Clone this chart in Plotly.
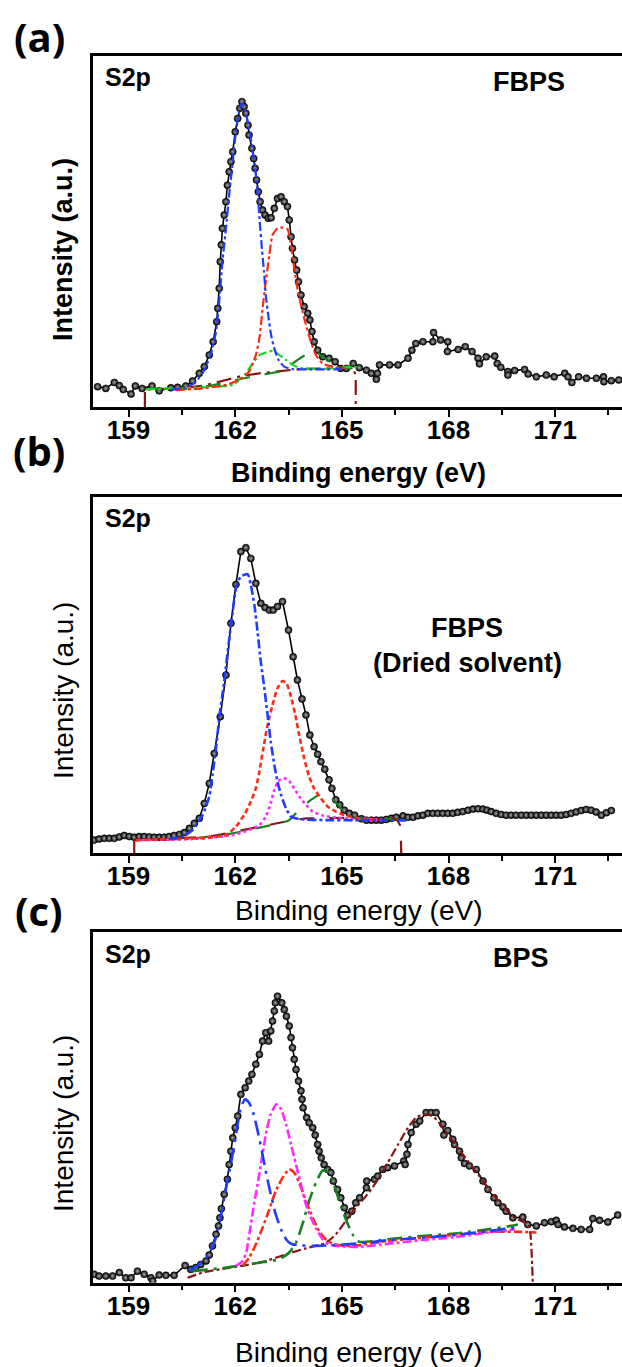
import plotly.graph_objects as go

W, H = 622, 1367
FONT = "Liberation Sans, Arial, sans-serif"
LABEL_FONT = "Open Sans, sans-serif"

# ---------------- (a) FBPS ----------------
a_be = [158.13, 158.36, 158.60, 158.74, 158.85, 159.07, 159.19, 159.38, 159.66, 159.86,
        160.19, 160.38, 160.61, 160.80, 160.99, 161.13, 161.27, 161.38, 161.48, 161.51,
        161.55, 161.58, 161.61, 161.64, 161.69, 161.74, 161.78, 161.83, 161.88, 161.93,
        162.00, 162.07, 162.13, 162.19, 162.25, 162.30, 162.36, 162.39, 162.47, 162.52,
        162.56, 162.60, 162.65, 162.70, 162.77, 162.84, 162.93, 163.01, 163.10, 163.19,
        163.29, 163.38, 163.47, 163.52, 163.57, 163.61, 163.67, 163.73, 163.78, 163.85,
        163.94, 164.04, 164.10, 164.16, 164.22, 164.32, 164.46, 164.64, 164.81, 164.97,
        165.13, 165.32, 165.49,
        165.69, 165.83, 165.97, 166.00, 166.06, 166.34, 166.58, 166.86, 166.97, 167.08,
        167.28, 167.56, 167.58, 167.78, 167.98, 167.97, 168.27, 168.47, 168.66, 168.83,
        168.87, 169.06, 169.30, 169.37, 169.47, 169.67, 169.67, 169.86, 170.14, 170.24,
        170.47, 170.75, 170.97, 171.27, 171.36, 171.47, 171.66, 171.88, 172.16, 172.36,
        172.37, 172.58, 172.79]
a_int = [5.8, 5.3, 7.0, 6.1, 5.0, 3.7, 6.0, 5.3, 6.0, 4.6,
         5.5, 5.6, 6.0, 7.4, 9.6, 11.5, 14.8, 18.6, 24.3, 28.1,
         33.8, 41.4, 46.2, 50.9, 54.7, 58.5, 63.2, 67.0, 69.9, 72.7,
         78.4, 82.2, 85.1, 87.0, 85.6, 83.7, 80.3, 77.5, 73.7, 70.8,
         68.0, 64.7, 61.3, 58.5, 56.1, 54.7, 53.8, 53.9, 56.6, 59.4,
         59.9, 58.5, 57.1, 53.3, 48.5, 45.2, 41.9, 39.0, 35.7, 31.9,
         28.6, 26.7, 24.8, 21.5, 18.6, 16.2, 14.3, 13.9, 12.9, 11.0,
         11.0, 12.4, 11.2,
         10.5, 9.6, 7.9, 9.6, 12.0, 12.0, 12.0, 13.9, 16.2, 18.1,
         18.6, 18.6, 21.2, 19.1, 18.6, 15.8, 16.4, 17.2, 15.8, 13.9,
         12.3, 14.3, 14.5, 12.4, 11.3, 10.1, 9.1, 10.4, 10.7, 9.4,
         8.6, 9.1, 8.6, 9.6, 8.6, 7.0, 8.6, 8.2, 8.2, 8.6,
         7.2, 7.5, 7.7]

a_bg_be = [159.46, 159.46, 160.33, 161.08, 161.74, 162.21, 162.68, 163.24, 163.80, 164.55, 165.30, 165.39, 165.39]
a_bg = [0.0, 5.0, 5.3, 6.0, 7.7, 8.9, 9.6, 10.3, 10.8, 11.0, 11.2, 9.1, 0.0]

a_blue_be = [160.19, 160.61, 160.89, 161.13, 161.32, 161.46, 161.55, 161.64, 161.74, 161.83,
             161.93, 162.02, 162.11, 162.19, 162.28, 162.38, 162.47, 162.56, 162.63, 162.69,
             162.75, 162.81, 162.86, 162.94, 163.01, 163.10, 163.22, 163.38, 163.61, 164.08,
             164.55, 165.11]
a_blue = [5.0, 5.5, 7.2, 10.5, 15.3, 21.5, 30.0, 41.4, 50.9, 60.4,
          69.9, 78.4, 84.1, 86.5, 84.6, 79.9, 74.6, 68.0, 61.3, 52.8,
          45.2, 38.6, 31.9, 25.3, 20.5, 16.7, 13.4, 11.5, 10.8, 10.7,
          10.7, 10.8]

a_red_be = [160.33, 161.08, 161.74, 162.11, 162.39, 162.58, 162.68, 162.77, 162.86, 162.96,
            163.05, 163.19, 163.33, 163.47, 163.57, 163.66, 163.75, 163.85, 163.99, 164.13,
            164.27, 164.46, 164.74, 165.11]
a_red = [4.8, 5.3, 6.3, 7.7, 10.1, 14.8, 19.6, 28.1, 35.7, 43.3,
         49.0, 50.9, 51.1, 50.7, 46.2, 39.5, 33.8, 29.1, 23.4, 18.6,
         14.8, 12.4, 11.5, 11.0]

a_lgreen_be = [159.49, 160.80, 161.93, 162.11, 162.30, 162.49, 162.68, 162.86, 163.05, 163.24,
               163.43, 163.61, 163.89, 164.55, 165.30, 165.49]
a_lgreen = [5.1, 5.5, 6.3, 7.7, 9.6, 12.4, 14.8, 15.5, 16.0, 14.8,
            13.4, 12.0, 11.0, 10.9, 11.5, 11.0]

a_dgreen_be = [159.49, 160.33, 161.27, 162.02, 162.68, 163.24, 163.61, 163.89, 164.22, 164.46,
               164.74, 165.02, 165.30]
a_dgreen = [5.1, 5.3, 6.0, 7.7, 9.1, 10.1, 12.4, 14.3, 16.0, 14.3,
            12.4, 11.2, 11.0]

# ---------------- (b) FBPS, dried solvent ----------------
b_be = [158.03, 158.17, 158.32, 158.46, 158.60, 158.74, 158.88, 159.02, 159.16, 159.30,
        159.44, 159.58, 159.72, 159.86, 160.00, 160.14, 160.28, 160.43, 160.57, 160.71,
        160.85, 160.99, 161.13, 161.27, 161.41, 161.58, 161.74, 161.88, 162.02, 162.16,
        162.30, 162.44, 162.58, 162.72, 162.84, 162.96, 163.07, 163.19, 163.33, 163.50,
        163.63, 163.75, 163.88, 163.99, 164.10, 164.22, 164.32, 164.41, 164.52, 164.64,
        164.72, 164.83, 164.94, 165.07, 165.21, 165.36,
        165.55, 165.69, 165.83, 165.97, 166.11, 166.25, 166.39, 166.53, 166.72, 166.86,
        167.00, 167.14, 167.28, 167.42, 167.56, 167.70, 167.84, 167.98, 168.12, 168.26,
        168.40, 168.55, 168.69, 168.83, 168.97, 169.08, 169.20, 169.34, 169.48, 169.62,
        169.76, 169.90, 170.05, 170.19, 170.33, 170.47, 170.61, 170.75, 170.89, 171.03,
        171.17, 171.31, 171.45, 171.59, 171.73, 171.87, 172.01, 172.15, 172.30, 172.44,
        172.58]
b_int = [3.7, 4.0, 4.2, 4.2, 4.2, 4.6, 5.0, 4.7, 4.5, 4.7,
         4.7, 4.6, 4.5, 4.5, 4.5, 4.7, 5.0, 5.3, 5.8, 7.0,
         8.4, 9.8, 14.0, 19.6, 28.0, 38.3, 50.0, 64.5, 75.4, 84.6,
         85.7, 82.7, 75.7, 70.1, 68.9, 68.2, 68.2, 69.2, 70.6, 62.6,
         55.1, 48.6, 43.3, 38.8, 33.2, 29.9, 27.8, 25.7, 23.6, 20.6,
         18.2, 15.0, 13.6, 12.1, 11.2, 10.7,
         9.7, 9.3, 9.3, 9.3, 9.3, 9.5, 9.8, 10.1, 10.5, 10.1,
         10.1, 10.5, 10.7, 11.2, 11.2, 11.2, 11.2, 11.2, 11.2, 11.5,
         11.7, 12.1, 12.4, 12.5, 12.4, 12.1, 11.7, 11.2, 10.9, 10.7,
         10.7, 10.7, 10.7, 10.7, 10.7, 10.7, 10.7, 10.7, 10.7, 10.7,
         10.7, 10.9, 11.2, 11.6, 12.0, 12.3, 12.1, 11.6, 10.7, 11.4,
         12.0]

b_bg_be = [159.16, 159.16, 160.33, 161.27, 162.02, 162.68, 163.24, 163.61, 163.99, 164.55,
           165.36, 165.92, 166.48, 166.56, 166.65, 166.67]
b_bg = [0.0, 3.7, 4.2, 4.7, 6.1, 7.5, 8.6, 9.3, 9.8, 9.8,
        10.0, 9.7, 9.8, 9.2, 7.7, 0.0]

b_blue_be = [160.14, 160.52, 160.80, 161.08, 161.27, 161.36, 161.46, 161.55, 161.69, 161.81,
             161.93, 162.04, 162.16, 162.35, 162.44, 162.54, 162.63, 162.72, 162.82, 162.91,
             163.00, 163.10, 163.19, 163.29, 163.43, 163.57, 163.80, 164.55, 165.36, 166.81]
b_blue = [4.0, 4.7, 6.5, 10.7, 15.9, 22.0, 29.4, 37.9, 48.1, 58.4,
          67.8, 75.2, 77.6, 78.3, 75.2, 69.6, 62.1, 53.7, 46.3, 38.8,
          31.3, 24.8, 20.1, 16.4, 12.6, 10.3, 9.6, 9.3, 9.3, 9.2]

b_red_be = [159.21, 160.33, 161.27, 161.74, 162.02, 162.25, 162.44, 162.58, 162.68, 162.79,
            162.91, 163.05, 163.19, 163.33, 163.44, 163.57, 163.69, 163.80, 163.94, 164.08,
            164.22, 164.41, 164.60, 164.83, 165.11, 165.49, 166.29]
b_red = [3.7, 4.0, 4.4, 5.1, 7.5, 10.7, 14.5, 18.2, 22.9, 29.4,
         36.0, 41.6, 46.3, 48.3, 47.7, 43.9, 38.8, 33.2, 26.6, 21.5,
         18.2, 15.4, 13.1, 11.7, 10.6, 9.8, 9.3]

b_mag_be = [159.21, 160.80, 161.93, 162.39, 162.68, 162.86, 163.00, 163.10, 163.22, 163.38,
            163.52, 163.66, 163.80, 163.99, 164.18, 164.46, 164.83, 165.36, 166.11]
b_mag = [3.7, 4.0, 5.1, 6.5, 7.9, 10.3, 14.0, 17.8, 20.3, 21.0,
         20.3, 18.2, 15.9, 13.6, 11.7, 10.6, 10.0, 9.6, 9.5]

b_dgreen_be = [159.21, 160.80, 161.93, 162.68, 163.24, 163.52, 163.75, 164.04, 164.27, 164.46,
               164.60, 164.74, 164.93, 165.11, 165.30, 165.49, 166.39]
b_dgreen = [3.7, 4.2, 5.6, 7.2, 8.4, 9.3, 11.7, 14.3, 15.9, 17.0,
            16.5, 15.2, 13.1, 11.2, 10.3, 9.8, 9.7]

# ---------------- (c) BPS ----------------
c_be = [158.03, 158.17, 158.36, 158.55, 158.74, 158.92, 159.07, 159.25, 159.44, 159.63,
        159.68, 159.86, 160.05, 160.28, 160.59, 160.75, 160.89, 161.03, 161.18, 161.27,
        161.36, 161.46, 161.53, 161.57, 161.61, 161.69, 161.78, 161.83, 161.88, 161.93,
        162.00, 162.07, 162.16, 162.28, 162.38, 162.47, 162.58, 162.68, 162.77, 162.86,
        162.94, 163.00, 163.05, 163.10, 163.13, 163.19, 163.31, 163.38, 163.44, 163.52,
        163.57, 163.61, 163.66, 163.71, 163.78, 163.85, 163.88, 163.91, 164.01, 164.08,
        164.18, 164.25, 164.32, 164.36, 164.42, 164.50, 164.60, 164.69, 164.76, 164.88,
        164.97, 165.07, 165.16, 165.28, 165.39, 165.50,
        165.69, 165.70, 165.92, 166.01, 166.15, 166.29, 166.48, 166.74, 166.78, 166.83,
        166.86, 166.95, 167.09, 167.19, 167.37, 167.51, 167.65, 167.84, 167.87, 167.98,
        168.12, 168.17, 168.31, 168.36, 168.45, 168.59, 168.78, 168.97, 169.11, 169.28,
        169.39, 169.53, 169.62, 169.81, 170.09, 170.23, 170.47, 170.70, 170.89, 171.03,
        171.08, 171.26, 171.50, 171.73, 171.97, 172.06, 172.25, 172.48, 172.76]
c_int = [2.4, 1.9, 1.9, 1.9, 2.9, 1.4, 1.4, 3.3, 2.4, 1.4,
         0.5, 2.2, 2.1, 2.1, 4.9, 3.8, 4.3, 5.2, 6.2, 7.9,
         10.5, 13.8, 16.2, 18.5, 21.1, 25.2, 29.5, 33.7, 37.5, 41.3,
         44.2, 47.5, 53.7, 55.6, 57.5, 59.4, 62.3, 65.1, 68.9, 71.3,
         68.9, 71.8, 74.6, 77.5, 79.8, 81.7, 79.8, 77.9, 76.0, 73.2,
         69.9, 67.0, 63.7, 60.8, 57.5, 54.7, 52.3, 49.9, 47.1, 45.6,
         44.2, 42.1, 39.4, 37.5, 35.6, 33.7, 32.3, 31.4, 29.0, 26.6,
         24.2, 21.4, 19.3, 20.4, 22.8, 24.2,
         27.1, 29.0, 29.5, 30.4, 32.3, 32.8, 33.3, 34.7, 33.7, 36.6,
         39.4, 42.8, 45.2, 46.1, 48.5, 48.5, 48.5, 45.2, 42.1, 43.4,
         40.9, 39.4, 37.5, 35.6, 34.0, 33.3, 32.3, 29.0, 26.6, 24.2,
         22.8, 21.6, 20.4, 18.5, 18.7, 16.6, 16.2, 17.1, 17.4, 17.8,
         16.6, 15.9, 15.5, 15.2, 15.2, 18.3, 17.8, 17.3, 19.3]

c_bg_be = [160.66, 161.08, 161.74, 162.30, 162.86, 163.43, 163.99, 164.55, 164.83, 165.11,
           165.39, 165.64, 165.92, 166.29, 166.58, 166.86, 167.09, 167.33, 167.56, 167.84,
           168.12, 168.40, 168.69, 168.97, 169.25, 169.53, 169.81, 170.05, 170.23, 170.30,
           170.37]
c_bg = [1.4, 2.9, 4.1, 5.0, 6.2, 8.1, 9.8, 11.4, 13.8, 17.6,
        21.4, 24.2, 28.0, 34.2, 39.4, 44.2, 47.1, 48.0, 47.5, 44.2,
        40.4, 36.6, 32.8, 29.0, 25.2, 21.9, 19.0, 17.6, 16.6, 14.3,
        0.0]

c_blue_be = [160.71, 160.99, 161.22, 161.41, 161.55, 161.66, 161.78, 161.91, 162.04, 162.16,
             162.28, 162.39, 162.52, 162.63, 162.75, 162.86, 163.00, 163.14, 163.29, 163.43,
             163.57, 163.80, 164.18, 164.74, 165.49, 166.29, 167.23, 168.17, 169.11, 170.00]
c_blue = [3.5, 5.2, 7.6, 11.4, 16.6, 22.3, 29.0, 35.6, 43.3, 49.9,
          52.3, 51.3, 48.0, 43.3, 37.5, 31.8, 25.2, 19.5, 15.2, 12.4,
          11.1, 10.7, 10.5, 10.7, 11.2, 12.1, 12.8, 13.6, 14.7, 15.9]

c_mag_be = [162.02, 162.21, 162.32, 162.41, 162.53, 162.66, 162.77, 162.88, 163.00, 163.16,
            163.29, 163.43, 163.57, 163.71, 163.85, 163.99, 164.13, 164.29, 164.46, 164.64,
            164.93, 165.49, 166.29, 167.23, 168.17, 169.11, 169.86]
c_mag = [4.8, 6.2, 9.0, 14.7, 22.3, 29.9, 36.6, 43.3, 48.0, 50.9,
         49.4, 45.2, 39.4, 33.7, 28.0, 22.3, 18.5, 15.2, 12.4, 10.9,
         10.4, 10.2, 11.1, 12.1, 13.0, 14.3, 15.2]

c_red_be = [162.21, 162.39, 162.58, 162.77, 162.96, 163.14, 163.33, 163.52, 163.66, 163.80,
            163.99, 164.18, 164.36, 164.55, 164.74, 165.11, 165.49, 166.29, 167.23, 168.17,
            169.11, 170.05, 170.47]
c_red = [4.9, 7.1, 10.9, 15.7, 20.9, 26.1, 29.9, 32.3, 31.4, 28.5,
         23.3, 18.5, 14.7, 12.4, 11.1, 10.5, 10.7, 11.9, 12.8, 13.6,
         14.5, 14.5, 14.3]

c_dgreen_be = [160.80, 161.74, 162.68, 163.24, 163.52, 163.71, 163.89, 164.08, 164.27, 164.46,
               164.60, 164.74, 164.93, 165.11, 165.30, 165.49, 166.29, 167.23, 168.17, 169.11,
               169.76, 169.95]
c_dgreen = [3.3, 4.3, 5.7, 6.7, 8.6, 11.4, 16.6, 23.3, 28.5, 32.0,
            31.7, 29.0, 23.3, 18.1, 13.8, 11.7, 12.4, 13.3, 14.0, 15.2,
            16.2, 16.6]

tick_vals = [159, 162, 165, 168, 171]
minor_vals = [160.5, 163.5, 166.5, 169.5, 172.5]
x_range = [158, 172.88]

BLUE = "#1f3cff"
RED = "#ff2a12"
LGREEN = "#1fd21f"
DGREEN = "#17801f"
BROWN = "#8a1414"
MAGENTA = "#ff2bff"

# panel pixel boxes: (top, bottom, frame width)
panels = [(56, 407, 3), (496.7, 853.3, 2.5), (932, 1282.7, 2.5)]

fig = go.Figure()


def add_data(be, inten, n):
    fig.add_trace(go.Scatter(
        x=be, y=inten, mode="lines+markers", xaxis=f"x{n}", yaxis=f"y{n}",
        line=dict(color="black", width=1.6),
        marker=dict(size=7, color="#000000",
                    gradient=dict(type="radial", color="#a8a8a8"),
                    line=dict(color="#000000", width=0.6)),
        showlegend=False, hoverinfo="skip"))


def add_comp(be, inten, n, color, dash, width=2.2, shape="spline"):
    fig.add_trace(go.Scatter(
        x=be, y=inten, mode="lines", xaxis=f"x{n}", yaxis=f"y{n}",
        line=dict(color=color, width=width, dash=dash, shape=shape, smoothing=0.6),
        showlegend=False, hoverinfo="skip"))


# (a)
add_data(a_be, a_int, "")
add_comp(a_bg_be, a_bg, "", BROWN, "longdashdot", shape="linear")
add_comp(a_dgreen_be, a_dgreen, "", DGREEN, "longdash")
add_comp(a_lgreen_be, a_lgreen, "", LGREEN, "dashdot")
add_comp(a_red_be, a_red, "", RED, "dashdot")
add_comp(a_blue_be, a_blue, "", BLUE, "dashdot")

# (b)
add_data(b_be, b_int, "2")
add_comp(b_bg_be, b_bg, "2", BROWN, "longdash", shape="linear")
add_comp(b_dgreen_be, b_dgreen, "2", DGREEN, "longdash")
add_comp(b_mag_be, b_mag, "2", MAGENTA, "dot", width=2.6)
add_comp(b_red_be, b_red, "2", RED, "5px,3px", width=2.6)
add_comp(b_blue_be, b_blue, "2", BLUE, "dashdot", width=2.6)

# (c)
add_data(c_be, c_int, "3")
add_comp(c_bg_be, c_bg, "3", BROWN, "dashdot")
add_comp(c_dgreen_be, c_dgreen, "3", DGREEN, "longdashdot", width=2.6)
add_comp(c_red_be, c_red, "3", RED, "dashdot", width=2.6)
add_comp(c_mag_be, c_mag, "3", MAGENTA, "dashdot", width=2.6)
add_comp(c_blue_be, c_blue, "3", BLUE, "longdashdot", width=2.6)

layout_axes = {}
for i, (top, bot, lw) in enumerate(panels):
    suffix = "" if i == 0 else str(i + 1)
    ydom = [1 - bot / H, 1 - top / H]
    layout_axes[f"xaxis{suffix}"] = dict(
        domain=[93 / W, 1], range=x_range, anchor=f"y{suffix}",
        showline=True, linecolor="black", linewidth=lw, mirror=True,
        ticks="outside", ticklen=7, tickwidth=2, tickcolor="black",
        ticklabelstandoff=-9,
        tickvals=tick_vals, ticktext=[str(v) for v in tick_vals],
        tickfont=dict(family=FONT, size=26, color="black", weight="bold"),
        minor=dict(tickvals=minor_vals, ticks="outside", ticklen=5,
                   tickwidth=2, tickcolor="black"),
        showgrid=False, zeroline=False, fixedrange=True)
    layout_axes[f"yaxis{suffix}"] = dict(
        domain=ydom, range=[0, 100], anchor=f"x{suffix}",
        showline=True, linecolor="black", linewidth=lw, mirror=False,
        ticks="", showticklabels=False, showgrid=False, zeroline=False,
        fixedrange=True)


def px_ann(text, x, y, size, bold=True, family=FONT, angle=0):
    return dict(text=text, x=x / W, y=1 - y / H, xref="paper", yref="paper",
                xanchor="center", yanchor="middle", showarrow=False, textangle=angle,
                font=dict(family=family, size=size, color="black",
                          weight="bold" if bold else "normal"))


annotations = [
    px_ann("(a)", 39, 37, 40, family=LABEL_FONT),
    px_ann("(b)", 39, 451, 40, family=LABEL_FONT),
    px_ann("(c)", 39, 910, 40, family=LABEL_FONT),
    px_ann("S2p", 128, 77, 25),
    px_ann("S2p", 128, 518, 25),
    px_ann("S2p", 128, 954, 25),
    px_ann("FBPS", 529, 82, 27),
    px_ann("FBPS", 467, 628, 27),
    px_ann("(Dried solvent)", 467, 663, 27),
    px_ann("BPS", 521, 958, 27),
    px_ann("Binding energy (eV)", 358, 473, 27),
    px_ann("Binding energy (eV)", 358, 911, 28, bold=False),
    px_ann("Binding energy (eV)", 358, 1352, 28, bold=False),
    px_ann("Intensity (a.u.)", 63, 250, 27, angle=-90),
    px_ann("Intensity (a.u.)", 63, 691, 28, bold=False, angle=-90),
    px_ann("Intensity (a.u.)", 63, 1124, 28, bold=False, angle=-90),
]

fig.update_layout(
    width=W, height=H, margin=dict(l=0, r=0, t=0, b=0),
    paper_bgcolor="white", plot_bgcolor="white",
    annotations=annotations, showlegend=False,
    **layout_axes)

fig.write_html("out.html")
